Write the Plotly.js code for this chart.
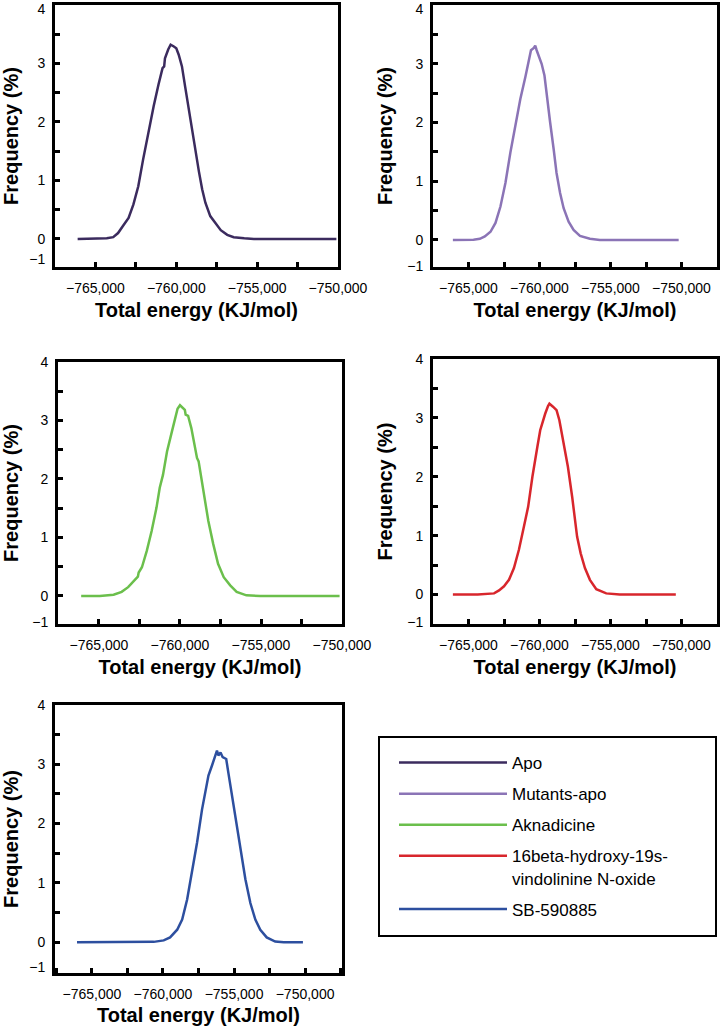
<!DOCTYPE html>
<html>
<head>
<meta charset="utf-8">
<script src="https://cdn.plot.ly/plotly-3.0.1.min.js"></script>
<style>
body { margin: 0; background: #fff; }
#chart { width: 723px; height: 1026px; }
</style>
</head>
<body>
<div id="chart"></div>
<script>
// series names as in the legend
const seriesNames = ["Apo", "Mutants-apo", "Aknadicine", "16beta-hydroxy-19s-<br>vindolinine N-oxide", "SB-590885"];

// total energy (KJ/mol) and frequency (%)
const energyApo = [-766100, -765150, -764300, -763900, -763600, -763300, -762950, -762650, -762350, -762050, -761700, -761400, -761100, -760850, -760750, -760700, -760500, -760350, -760150, -760000, -759850, -759650, -759450, -759250, -759050, -758800, -758600, -758400, -758200, -757900, -757550, -757250, -756850, -756450, -755800, -755200, -750100];
const freqApo = [0, 0, 0.01, 0.03, 0.10, 0.22, 0.36, 0.59, 0.90, 1.36, 1.87, 2.27, 2.64, 2.92, 2.95, 3.09, 3.24, 3.32, 3.29, 3.26, 3.15, 2.95, 2.60, 2.25, 1.92, 1.52, 1.15, 0.85, 0.62, 0.39, 0.25, 0.15, 0.07, 0.03, 0.01, 0, 0];

const energyMutants = [-766100, -764650, -764200, -763850, -763450, -763100, -762750, -762400, -762050, -761700, -761350, -761000, -760800, -760600, -760400, -760300, -760200, -760000, -759850, -759650, -759500, -759250, -759000, -758800, -758550, -758300, -757950, -757600, -757150, -756450, -755750, -750200];
const freqMutants = [0, 0.005, 0.02, 0.06, 0.14, 0.29, 0.57, 0.97, 1.49, 1.94, 2.40, 2.77, 3.03, 3.23, 3.27, 3.31, 3.23, 3.11, 3.00, 2.80, 2.46, 2.00, 1.54, 1.14, 0.80, 0.54, 0.31, 0.17, 0.07, 0.02, 0, 0];

const energyAkna = [-766100, -764950, -764100, -763600, -763200, -762800, -762600, -762550, -762350, -762050, -761750, -761450, -761250, -761050, -760800, -760500, -760300, -760150, -760000, -759850, -759700, -759650, -759500, -759300, -758950, -758850, -758550, -758250, -757950, -757650, -757300, -756900, -756500, -755900, -755050, -750150];
const freqAkna = [0, 0, 0.02, 0.07, 0.15, 0.27, 0.33, 0.40, 0.49, 0.77, 1.11, 1.51, 1.85, 2.07, 2.47, 2.81, 3.03, 3.20, 3.26, 3.21, 3.18, 3.10, 3.08, 2.87, 2.36, 2.30, 1.79, 1.28, 0.89, 0.55, 0.32, 0.18, 0.07, 0.01, 0, 0];

const energyVindo = [-766100, -764350, -763200, -762850, -762500, -762150, -761800, -761450, -761100, -760800, -760500, -760300, -760150, -759950, -759750, -759600, -759400, -759300, -759050, -758800, -758600, -758300, -758000, -757700, -757350, -757100, -756800, -756450, -756000, -755300, -754350, -750400];
const freqVindo = [0, 0, 0.02, 0.07, 0.14, 0.25, 0.45, 0.76, 1.15, 1.49, 2.00, 2.34, 2.51, 2.79, 2.96, 3.07, 3.20, 3.24, 3.19, 3.13, 2.96, 2.56, 2.17, 1.66, 0.98, 0.70, 0.45, 0.25, 0.09, 0.02, 0, 0];

const energySB = [-766050, -762050, -760650, -759950, -759500, -759000, -758650, -758300, -757950, -757600, -757250, -757000, -756800, -756550, -756300, -756200, -756100, -755950, -755800, -755550, -755400, -755150, -754850, -754550, -754200, -753850, -753500, -753150, -752700, -752100, -751500, -750150];
const freqSB = [0, 0, 0.005, 0.03, 0.08, 0.21, 0.38, 0.72, 1.17, 1.68, 2.24, 2.53, 2.81, 2.98, 3.18, 3.23, 3.15, 3.20, 3.12, 3.09, 2.86, 2.47, 2.02, 1.56, 1.06, 0.66, 0.38, 0.21, 0.08, 0.01, 0, 0];

// y tick labels (the "-1" label sits just above the lower frame in every panel)
const yTickText = ["\u22121", "0", "1", "2", "3", "4"];
const yTickPos = [[-0.34, 0, 1, 2, 3, 3.93], [-0.45, 0, 1, 2, 3, 3.93], [-0.44, 0, 1, 2, 3, 4], [-0.46, 0, 1, 2, 3, 4], [-0.42, 0, 1, 2, 3, 4]];
const yDotTicks = [0, 0.5, 1, 1.5, 2, 2.5, 3, 3.5];

const colors = ["#3b2b5e", "#8b74b6", "#6bbf4c", "#d8262c", "#2d4f9f"];

const energies = [energyApo, energyMutants, energyAkna, energyVindo, energySB];
const freqs = [freqApo, freqMutants, freqAkna, freqVindo, freqSB];

const W = 723, H = 1026;
// panel frames in pixels: left, right, top, bottom
const frames = [
    [55, 338, 5, 267],
    [433, 717, 5, 267],
    [58, 342, 362, 624],
    [433, 717, 359, 624],
    [55, 342, 705, 973]
];
const xRanges = [[-767500, -750000], [-767500, -747500], [-767530, -750000], [-767500, -747500], [-767600, -747400]];
const yRanges = [[-0.48, 4], [-0.46, 4], [-0.48, 4], [-0.5, 4], [-0.52, 4]];

const font = "Liberation Sans, Arial, sans-serif";

function makeX(i) {
    const f = frames[i];
    return {
        domain: [f[0] / W, f[1] / W],
        range: xRanges[i],
        anchor: "y" + (i === 0 ? "" : i + 1),
        showline: true, linewidth: 3, linecolor: "black", mirror: true,
        showgrid: false, zeroline: false,
        tickmode: "linear", tick0: -765000, dtick: 5000,
        ticks: "inside", ticklen: 5, tickwidth: 3, tickcolor: "black",
        minor: { tickmode: "linear", tick0: -765000, dtick: 2500, ticks: "inside", ticklen: 5, tickwidth: 3, tickcolor: "black", showgrid: false },
        tickformat: ",d",
        tickfont: { size: 14, color: "black" },
        ticklabelstandoff: 6,
        title: { text: "Total energy (KJ/mol)", font: { size: 20, weight: "bold", color: "black" }, standoff: 9 }
    };
}

function makeY(i) {
    const f = frames[i];
    return {
        domain: [1 - f[3] / H, 1 - f[2] / H],
        range: yRanges[i],
        anchor: "x" + (i === 0 ? "" : i + 1),
        showline: true, linewidth: 3, linecolor: "black", mirror: true,
        showgrid: false, zeroline: false,
        tickmode: "array", tickvals: yTickPos[i], ticktext: yTickText,
        ticks: "",
        minor: { tickmode: "array", tickvals: yDotTicks, ticks: "inside", ticklen: 5, tickwidth: 3, tickcolor: "black", showgrid: false },
        tickfont: { size: 14, color: "black" },
        ticklabelstandoff: 4,
        ticklabeloverflow: "allow",
        title: { text: "Frequency (%)", font: { size: 20, weight: "bold", color: "black" }, standoff: 10 }
    };
}

const traces = energies.map((xs, i) => ({
    x: xs,
    y: freqs[i],
    type: "scatter",
    mode: "lines",
    name: seriesNames[i],
    legendgroup: "g" + i,
    xaxis: "x" + (i === 0 ? "" : i + 1),
    yaxis: "y" + (i === 0 ? "" : i + 1),
    line: { color: colors[i], width: 2.5 },
    hoverinfo: "skip"
}));

const layout = {
    width: W,
    height: H,
    margin: { l: 0, r: 0, t: 0, b: 0 },
    font: { family: font, color: "black" },
    showlegend: true,
    legend: {
        x: 394 / W, y: 1 - 745 / H, xanchor: "left", yanchor: "top",
        bgcolor: "rgba(0,0,0,0)", borderwidth: 0,
        font: { size: 17, color: "black" },
        itemwidth: 108, tracegroupgap: 6, valign: "top",
        traceorder: "grouped"
    },
    // frame round the legend
    shapes: [{
        type: "rect", xref: "paper", yref: "paper",
        x0: 379 / W, x1: 716 / W, y0: 1 - 936 / H, y1: 1 - 737 / H,
        line: { color: "black", width: 2 }
    }]
};

for (let i = 0; i < 5; i += 1) {
    const s = i === 0 ? "" : i + 1;
    layout["xaxis" + s] = makeX(i);
    layout["yaxis" + s] = makeY(i);
}

Plotly.newPlot("chart", traces, layout, { displayModeBar: false, staticPlot: true });
</script>
</body>
</html>
